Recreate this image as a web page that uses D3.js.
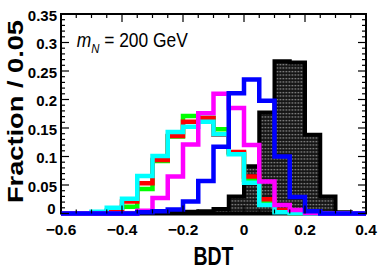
<!DOCTYPE html>
<html>
<head>
<meta charset="utf-8">
<script src="https://cdn.jsdelivr.net/npm/d3@7"></script>
<style>
  html, body { margin: 0; padding: 0; background: #fff; }
  svg { display: block; font-family: "Liberation Sans", Arial, sans-serif; }
</style>
</head>
<body>
<svg id="chart" width="382" height="273"></svg>
<script>
// bin edges of the BDT histograms (width 0.05)
const binEdges = [-0.6, -0.55, -0.5, -0.45, -0.4, -0.35, -0.3, -0.25, -0.2, -0.15, -0.1,
                  -0.05, 0, 0.05, 0.1, 0.15, 0.2, 0.25, 0.3, 0.35, 0.4];

// fraction per bin
const bkgBlack   = [0, 0, 0, 0, 0, 0, 0, 0.001, 0.003, 0.004, 0.008, 0.030, 0.083, 0.177, 0.267, 0.265, 0.138, 0.030, 0.002, 0];
const sigGreen   = [0, 0, 0.001, 0.003, 0.012, 0.043, 0.092, 0.135, 0.171, 0.168, 0.148, 0.106, 0.059, 0.022, 0.005, 0.001, 0, 0, 0, 0];
const sigRed     = [0, 0, 0.001, 0.005, 0.021, 0.053, 0.094, 0.136, 0.161, 0.167, 0.138, 0.108, 0.065, 0.025, 0.006, 0.002, 0, 0, 0, 0];
const sigCyan    = [0, 0, 0.003, 0.010, 0.026, 0.066, 0.101, 0.143, 0.152, 0.161, 0.139, 0.104, 0.054, 0.015, 0.002, 0.001, 0, 0, 0, 0];
const sigMagenta = [0, 0, 0, 0, 0, 0.005, 0.027, 0.065, 0.121, 0.176, 0.210, 0.185, 0.120, 0.056, 0.015, 0.006, 0.001, 0, 0, 0];
const sigBlue    = [0, 0, 0, 0, 0, 0.002, 0.004, 0.007, 0.021, 0.057, 0.117, 0.211, 0.235, 0.198, 0.100, 0.029, 0.004, 0, 0, 0];

const xTicks = [-0.6, -0.4, -0.2, 0, 0.2, 0.4];
const xTickLabels = ["\u22120.6", "\u22120.4", "\u22120.2", "0", "0.2", "0.4"];
const yTicks = [0, 0.05, 0.1, 0.15, 0.2, 0.25, 0.3, 0.35];
const yTickLabels = ["0", "0.05", "0.1", "0.15", "0.2", "0.25", "0.3", "0.35"];

const padL = 61, padR = 366, padT = 14, padB = 213.5;

const svg = d3.select("#chart");

const x = d3.scaleLinear().domain([-0.6, 0.4]).range([padL, padR]);
const y = d3.scaleLinear().domain([0, 0.35]).range([padB, padT]);

// dark dotted fill of the black histogram
const defs = svg.append("defs");
const pat = defs.append("pattern")
    .attr("id", "hatch")
    .attr("patternUnits", "userSpaceOnUse")
    .attr("width", 3)
    .attr("height", 3.5);
pat.append("rect").attr("width", 3).attr("height", 3.5).attr("fill", "#151515");
pat.append("rect").attr("x", 0.5).attr("y", 1).attr("width", 1.8).attr("height", 1.1).attr("fill", "#9a9a9a");

// frame
svg.append("rect")
    .attr("x", padL)
    .attr("y", padT)
    .attr("width", padR - padL)
    .attr("height", padB - padT)
    .attr("fill", "#fff")
    .attr("stroke", "#000")
    .attr("stroke-width", 2);

function stepPoints(vals){
    const pts = [[binEdges[0], 0]];
    vals.forEach((v, i) => {
        pts.push([binEdges[i], v]);
        pts.push([binEdges[i + 1], v]);
    });
    pts.push([binEdges[binEdges.length - 1], 0]);
    return pts;
}

const line = d3.line()
    .x(d => x(d[0]))
    .y(d => y(d[1]));

// background histogram, filled
svg.append("path")
    .attr("d", line(stepPoints(bkgBlack)) + "Z")
    .attr("fill", "url(#hatch)")
    .attr("stroke", "#000")
    .attr("stroke-width", 4);

const series = [
    {vals: sigGreen, color: "#00ff00"},
    {vals: sigRed, color: "#ff0000"},
    {vals: sigCyan, color: "#00ffff"},
    {vals: sigMagenta, color: "#ff00ff"},
    {vals: sigBlue, color: "#0000ff"}
];

svg.selectAll("path.hist")
    .data(series)
    .enter()
    .append("path")
    .attr("class", "hist")
    .attr("d", d => line(stepPoints(d.vals)))
    .attr("fill", "none")
    .attr("stroke", d => d.color)
    .attr("stroke-width", 4.5)
    .attr("stroke-linejoin", "miter");

// ticks
const near = (v, step) => Math.abs(Math.round(v / step) * step - v) < 1e-6;
const ticks = svg.append("g").attr("stroke", "#000").attr("stroke-width", 1.2);

x.ticks(20).forEach(v => {
    const len = near(v, 0.2) ? 8 : 4;
    ticks.append("line").attr("x1", x(v)).attr("x2", x(v)).attr("y1", padT).attr("y2", padT + len);
    ticks.append("line").attr("x1", x(v)).attr("x2", x(v)).attr("y1", padB).attr("y2", padB - len);
});
y.ticks(35).forEach(v => {
    const len = near(v, 0.05) ? 8 : 4;
    ticks.append("line").attr("x1", padL).attr("x2", padL + len).attr("y1", y(v)).attr("y2", y(v));
    ticks.append("line").attr("x1", padR).attr("x2", padR - len).attr("y1", y(v)).attr("y2", y(v));
});

// tick labels
svg.selectAll("text.xlab")
    .data(xTicks)
    .enter()
    .append("text")
    .attr("class", "xlab")
    .attr("x", d => x(d))
    .attr("y", 235)
    .attr("text-anchor", "middle")
    .style("font-size", "15.5px")
    .style("font-weight", "bold")
    .text((d, i) => xTickLabels[i]);

svg.selectAll("text.ylab")
    .data(yTicks)
    .enter()
    .append("text")
    .attr("class", "ylab")
    .attr("x", d => d === 0 ? 55.5 : 57)
    .attr("y", d => d === 0 ? y(d) : y(d) + 6.5)
    .attr("text-anchor", "end")
    .style("font-size", "15px")
    .style("font-weight", "bold")
    .text((d, i) => yTickLabels[i]);

// axis titles
svg.append("text")
    .attr("transform", "translate(23.3,111.5) rotate(-90)")
    .attr("text-anchor", "middle")
    .attr("textLength", 183)
    .attr("lengthAdjust", "spacingAndGlyphs")
    .style("font-size", "22px")
    .style("font-weight", "bold")
    .text("Fraction / 0.05");

svg.append("text")
    .attr("x", (padL + padR) / 2)
    .attr("y", 265)
    .attr("text-anchor", "middle")
    .attr("textLength", 40)
    .attr("lengthAdjust", "spacingAndGlyphs")
    .style("font-size", "25.5px")
    .style("font-weight", "bold")
    .text("BDT");

// mass label
const lab = svg.append("g")
    .attr("transform", "translate(76.7,46.7) scale(0.87,1)")
    .append("text")
    .style("font-size", "20px");
lab.append("tspan").style("font-style", "italic").text("m");
lab.append("tspan").attr("dy", 6.6).style("font-style", "italic").style("font-size", "13px").text("N");
lab.append("tspan").attr("dy", -6.6).text(" = 200 GeV");
</script>
</body>
</html>
